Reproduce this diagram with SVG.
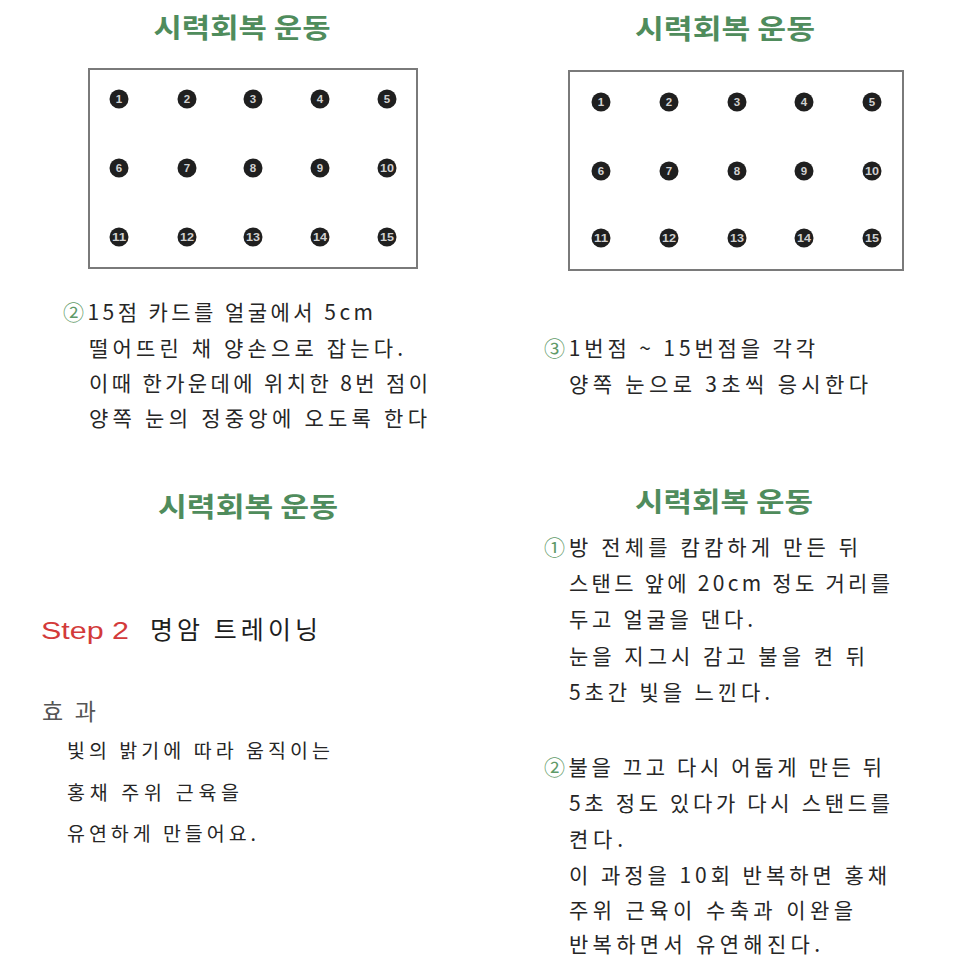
<svg xmlns="http://www.w3.org/2000/svg" width="960" height="960" viewBox="0 0 960 960">
<style>
.title{font-family:"Noto Sans CJK KR","Noto Sans",sans-serif;font-size:27px;font-weight:bold;fill:#4f8c5c;text-anchor:middle}
.body{font-family:"Noto Sans CJK KR","Noto Sans",sans-serif;font-size:21px;fill:#262626}
.sm{font-size:19.5px}
.num{fill:#5f9a68;font-weight:normal}
.box{fill:#fff;stroke:#7a7a7a;stroke-width:2}
.dot{fill:#1f1f1f}
.dn{font-family:"Liberation Sans",Arial,sans-serif;font-size:11.5px;font-weight:bold;fill:#d0d0d0;text-anchor:middle}
.step{font-family:"Liberation Sans",Arial,sans-serif;font-size:24px;fill:#d33a3a}
.head{font-family:"Noto Sans CJK KR","Noto Sans",sans-serif;font-size:25px;fill:#1e1e1e}
.eff{font-family:"Noto Sans CJK KR","Noto Sans",sans-serif;font-size:23px;fill:#555}
</style>
<rect width="960" height="960" fill="#fff"/>

<g id="panel1">
<text class="title" x="242" y="38" textLength="177" lengthAdjust="spacingAndGlyphs">시력회복 운동</text>
<rect class="box" x="89" y="69" width="328" height="199"/>
<g id="card1">
<circle class="dot" cx="119" cy="99" r="9.5"/><text class="dn" x="119" y="103">1</text>
<circle class="dot" cx="187" cy="99" r="9.5"/><text class="dn" x="187" y="103">2</text>
<circle class="dot" cx="253" cy="99" r="9.5"/><text class="dn" x="253" y="103">3</text>
<circle class="dot" cx="320" cy="99" r="9.5"/><text class="dn" x="320" y="103">4</text>
<circle class="dot" cx="387" cy="99" r="9.5"/><text class="dn" x="387" y="103">5</text>
<circle class="dot" cx="119" cy="168" r="9.5"/><text class="dn" x="119" y="172">6</text>
<circle class="dot" cx="187" cy="168" r="9.5"/><text class="dn" x="187" y="172">7</text>
<circle class="dot" cx="253" cy="168" r="9.5"/><text class="dn" x="253" y="172">8</text>
<circle class="dot" cx="320" cy="168" r="9.5"/><text class="dn" x="320" y="172">9</text>
<circle class="dot" cx="387" cy="168" r="9.5"/><text class="dn" x="387" y="172" textLength="14" lengthAdjust="spacingAndGlyphs">10</text>
<circle class="dot" cx="119" cy="237" r="9.5"/><text class="dn" x="119" y="241" textLength="14" lengthAdjust="spacingAndGlyphs">11</text>
<circle class="dot" cx="187" cy="237" r="9.5"/><text class="dn" x="187" y="241" textLength="14" lengthAdjust="spacingAndGlyphs">12</text>
<circle class="dot" cx="253" cy="237" r="9.5"/><text class="dn" x="253" y="241" textLength="14" lengthAdjust="spacingAndGlyphs">13</text>
<circle class="dot" cx="320" cy="237" r="9.5"/><text class="dn" x="320" y="241" textLength="14" lengthAdjust="spacingAndGlyphs">14</text>
<circle class="dot" cx="387" cy="237" r="9.5"/><text class="dn" x="387" y="241" textLength="14" lengthAdjust="spacingAndGlyphs">15</text>
</g>
<text class="body" x="63" y="320" textLength="310" lengthAdjust="spacing"><tspan class="num">②</tspan>15점 카드를 얼굴에서 5cm</text>
<text class="body" x="89" y="356" textLength="314" lengthAdjust="spacing">떨어뜨린 채 양손으로 잡는다.</text>
<text class="body" x="89" y="391" textLength="339" lengthAdjust="spacing">이때 한가운데에 위치한 8번 점이</text>
<text class="body" x="89" y="426" textLength="338" lengthAdjust="spacing">양쪽 눈의 정중앙에 오도록 한다</text>
</g>

<g id="panel2">
<text class="title" x="725" y="39" textLength="180" lengthAdjust="spacingAndGlyphs">시력회복 운동</text>
<rect class="box" x="569" y="71" width="334" height="199"/>
<g id="card2">
<circle class="dot" cx="601" cy="102" r="9.5"/><text class="dn" x="601" y="106">1</text>
<circle class="dot" cx="669" cy="102" r="9.5"/><text class="dn" x="669" y="106">2</text>
<circle class="dot" cx="737" cy="102" r="9.5"/><text class="dn" x="737" y="106">3</text>
<circle class="dot" cx="804" cy="102" r="9.5"/><text class="dn" x="804" y="106">4</text>
<circle class="dot" cx="872" cy="102" r="9.5"/><text class="dn" x="872" y="106">5</text>
<circle class="dot" cx="601" cy="171" r="9.5"/><text class="dn" x="601" y="175">6</text>
<circle class="dot" cx="669" cy="171" r="9.5"/><text class="dn" x="669" y="175">7</text>
<circle class="dot" cx="737" cy="171" r="9.5"/><text class="dn" x="737" y="175">8</text>
<circle class="dot" cx="804" cy="171" r="9.5"/><text class="dn" x="804" y="175">9</text>
<circle class="dot" cx="872" cy="171" r="9.5"/><text class="dn" x="872" y="175" textLength="14" lengthAdjust="spacingAndGlyphs">10</text>
<circle class="dot" cx="601" cy="238" r="9.5"/><text class="dn" x="601" y="242" textLength="14" lengthAdjust="spacingAndGlyphs">11</text>
<circle class="dot" cx="669" cy="238" r="9.5"/><text class="dn" x="669" y="242" textLength="14" lengthAdjust="spacingAndGlyphs">12</text>
<circle class="dot" cx="737" cy="238" r="9.5"/><text class="dn" x="737" y="242" textLength="14" lengthAdjust="spacingAndGlyphs">13</text>
<circle class="dot" cx="804" cy="238" r="9.5"/><text class="dn" x="804" y="242" textLength="14" lengthAdjust="spacingAndGlyphs">14</text>
<circle class="dot" cx="872" cy="238" r="9.5"/><text class="dn" x="872" y="242" textLength="14" lengthAdjust="spacingAndGlyphs">15</text>
</g>
<text class="body" x="544" y="356" textLength="271" lengthAdjust="spacing"><tspan class="num">③</tspan>1번점 ~ 15번점을 각각</text>
<text class="body" x="569" y="392" textLength="299" lengthAdjust="spacing">양쪽 눈으로 3초씩 응시한다</text>
</g>

<g id="panel3">
<text class="title" x="248" y="517" textLength="180" lengthAdjust="spacingAndGlyphs">시력회복 운동</text>
<text class="step" x="41" y="639" textLength="88" lengthAdjust="spacingAndGlyphs">Step 2</text>
<text class="head" x="150" y="639" textLength="168" lengthAdjust="spacing">명암 트레이닝</text>
<text class="eff" x="42" y="720" textLength="54" lengthAdjust="spacing">효과</text>
<text class="body sm" x="67" y="758" textLength="263" lengthAdjust="spacing">빛의 밝기에 따라 움직이는</text>
<text class="body sm" x="67" y="800" textLength="172" lengthAdjust="spacing">홍채 주위 근육을</text>
<text class="body sm" x="67" y="841" textLength="189" lengthAdjust="spacing">유연하게 만들어요.</text>
</g>

<g id="panel4">
<text class="title" x="724" y="512" textLength="178" lengthAdjust="spacingAndGlyphs">시력회복 운동</text>
<text class="body" x="544" y="555" textLength="314" lengthAdjust="spacing"><tspan class="num">①</tspan>방 전체를 캄캄하게 만든 뒤</text>
<text class="body" x="569" y="591" textLength="321" lengthAdjust="spacing">스탠드 앞에 20cm 정도 거리를</text>
<text class="body" x="569" y="627" textLength="184" lengthAdjust="spacing">두고 얼굴을 댄다.</text>
<text class="body" x="569" y="664" textLength="296" lengthAdjust="spacing">눈을 지그시 감고 불을 켠 뒤</text>
<text class="body" x="569" y="700" textLength="201" lengthAdjust="spacing">5초간 빛을 느낀다.</text>
<text class="body" x="544" y="775" textLength="338" lengthAdjust="spacing"><tspan class="num">②</tspan>불을 끄고 다시 어둡게 만든 뒤</text>
<text class="body" x="569" y="811" textLength="321" lengthAdjust="spacing">5초 정도 있다가 다시 스탠드를</text>
<text class="body" x="569" y="847" textLength="54" lengthAdjust="spacing">켠다.</text>
<text class="body" x="569" y="883" textLength="318" lengthAdjust="spacing">이 과정을 10회 반복하면 홍채</text>
<text class="body" x="569" y="918" textLength="284" lengthAdjust="spacing">주위 근육이 수축과 이완을</text>
<text class="body" x="569" y="952" textLength="251" lengthAdjust="spacing">반복하면서 유연해진다.</text>
</g>
</svg>
